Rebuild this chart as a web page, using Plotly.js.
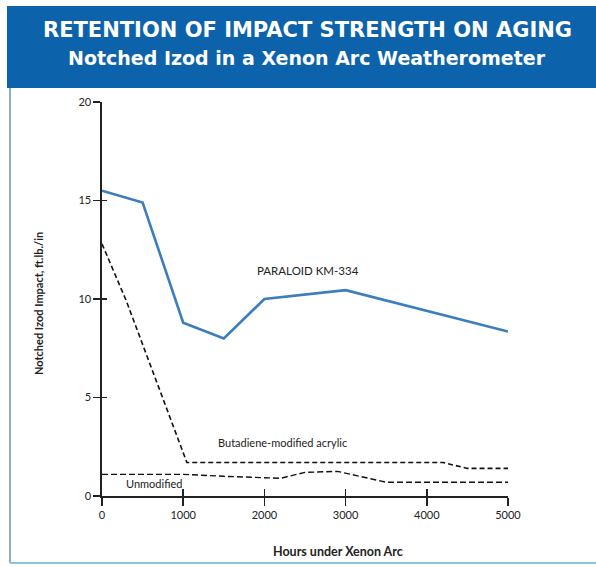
<!DOCTYPE html>
<html>
<head>
<meta charset="utf-8">
<script src="https://cdn.plot.ly/plotly-3.0.1.min.js"></script>
<style>html,body{margin:0;padding:0;background:#fff;}#chart{width:596px;height:567px;}</style>
</head>
<body>
<div id="chart"></div>
<script>
// Data
const paraloidHours = [0, 500, 1000, 1500, 2000, 3000, 5000];
const paraloidImpact = [15.5, 14.9, 8.8, 8.0, 10.0, 10.45, 8.35];

const butadieneHours = [0, 300, 1045, 4200, 4500, 5000];
const butadieneImpact = [12.8, 9.9, 1.7, 1.7, 1.4, 1.4];

const unmodifiedHours = [0, 1000, 1500, 2200, 2500, 2900, 3500, 5000];
const unmodifiedImpact = [1.1, 1.1, 1.0, 0.9, 1.2, 1.25, 0.7, 0.7];

const xTicks = [0, 1000, 2000, 3000, 4000, 5000];
const yTicks = [0, 5, 10, 15, 20];

const titleLine1 = "RETENTION OF IMPACT STRENGTH ON AGING";
const titleLine2 = "Notched Izod in a Xenon Arc Weatherometer";
const xTitle = "Hours under Xenon Arc";
const yTitle = "Notched Izod Impact, ft.lb./in";
const seriesLabels = ["PARALOID KM-334", "Butadiene-modified acrylic", "Unmodified"];

const FONT = "Lato, 'Open Sans', sans-serif";
const HFONT = "'DejaVu Sans', Lato, sans-serif";
const TXT = "#222";

const traces = [
  {x: paraloidHours, y: paraloidImpact, mode: "lines", line: {color: "#3b7dbd", width: 2.6}, hoverinfo: "skip"},
  {x: butadieneHours, y: butadieneImpact, mode: "lines", line: {color: "#111", width: 1.6, dash: "5px,3px"}, hoverinfo: "skip"},
  {x: unmodifiedHours, y: unmodifiedImpact, mode: "lines", xaxis: "x2", yaxis: "y2",
   line: {color: "#111", width: 1.4, dash: "6px,3px"}, hoverinfo: "skip"}
];

const px2x = p => (p - 102) / 406;
const px2y = p => (496 - p) / 394;

const layout = {
  width: 596, height: 567,
  margin: {l: 102, r: 88, t: 102, b: 71},
  paper_bgcolor: "#fff", plot_bgcolor: "rgba(0,0,0,0)",
  showlegend: false,
  font: {family: FONT, color: TXT, size: 11},
  xaxis: {
    range: [0, 5000], tickvals: xTicks, ticktext: xTicks.map(String),
    showgrid: false, zeroline: false, showline: true, linecolor: "#222", linewidth: 1.6,
    ticks: "outside", ticklen: 8, tickwidth: 1.6, tickcolor: "#222",
    tickfont: {family: FONT, size: 11, color: TXT}, fixedrange: true
  },
  yaxis: {
    range: [0, 20], tickvals: yTicks, ticktext: yTicks.map(String),
    showgrid: false, zeroline: false, showline: true, linecolor: "#222", linewidth: 1.6,
    ticks: "outside", ticklen: 7, tickwidth: 1.6, tickcolor: "#222",
    tickfont: {family: FONT, size: 11, color: TXT}, fixedrange: true
  },
  xaxis2: {
    overlaying: "x", anchor: "y2", side: "bottom", range: [0, 5000], tickvals: xTicks,
    showticklabels: false, showgrid: false, zeroline: false, showline: false,
    ticks: "inside", ticklen: 7, tickwidth: 1.6, tickcolor: "#222", fixedrange: true
  },
  yaxis2: {
    overlaying: "y", anchor: "x2", side: "left", range: [0, 20], tickvals: yTicks,
    showticklabels: false, showgrid: false, zeroline: false, showline: false,
    ticks: "inside", ticklen: 5, tickwidth: 1.6, tickcolor: "#222", fixedrange: true
  },
  shapes: [
    {type: "rect", xref: "paper", yref: "paper", x0: px2x(7), x1: px2x(597), y0: px2y(88), y1: px2y(6),
     fillcolor: "#0d63ab", line: {width: 0}, layer: "below"},
    {type: "line", xref: "paper", yref: "paper", x0: px2x(10), x1: px2x(10), y0: px2y(88), y1: px2y(563),
     line: {color: "#6f8fa8", width: 1.5}},
    {type: "line", xref: "paper", yref: "paper", x0: px2x(10), x1: px2x(596), y0: px2y(563), y1: px2y(563),
     line: {color: "#8cc3dd", width: 2}}
  ],
  annotations: [
    {text: "<b>" + titleLine1 + "</b>", xref: "paper", yref: "paper", x: px2x(307), y: px2y(30),
     showarrow: false, font: {family: HFONT, size: 21, color: "#fff"}, xanchor: "center", yanchor: "middle"},
    {text: "<b>" + titleLine2 + "</b>", xref: "paper", yref: "paper", x: px2x(307), y: px2y(58),
     showarrow: false, font: {family: HFONT, size: 19, color: "#fff"}, xanchor: "center", yanchor: "middle"},
    {text: "<b>" + xTitle + "</b>", xref: "paper", yref: "paper", x: px2x(338), y: px2y(551),
     showarrow: false, font: {family: FONT, size: 12.5, color: TXT}, xanchor: "center", yanchor: "middle"},
    {text: "<b>" + yTitle + "</b>", xref: "paper", yref: "paper", x: px2x(38), y: px2y(304), textangle: -90,
     showarrow: false, font: {family: FONT, size: 11, color: TXT}, xanchor: "center", yanchor: "middle"},
    {text: seriesLabels[0], xref: "paper", yref: "paper", x: px2x(308), y: px2y(270),
     showarrow: false, font: {family: FONT, size: 11.5, color: TXT}, xanchor: "center", yanchor: "middle"},
    {text: seriesLabels[1], xref: "paper", yref: "paper", x: px2x(282), y: px2y(442),
     showarrow: false, font: {family: FONT, size: 11, color: TXT}, xanchor: "center", yanchor: "middle"},
    {text: seriesLabels[2], xref: "paper", yref: "paper", x: px2x(154), y: px2y(483),
     showarrow: false, font: {family: FONT, size: 11, color: TXT}, xanchor: "center", yanchor: "middle"}
  ]
};

Plotly.newPlot("chart", traces, layout, {displayModeBar: false, staticPlot: true});
</script>
</body>
</html>
